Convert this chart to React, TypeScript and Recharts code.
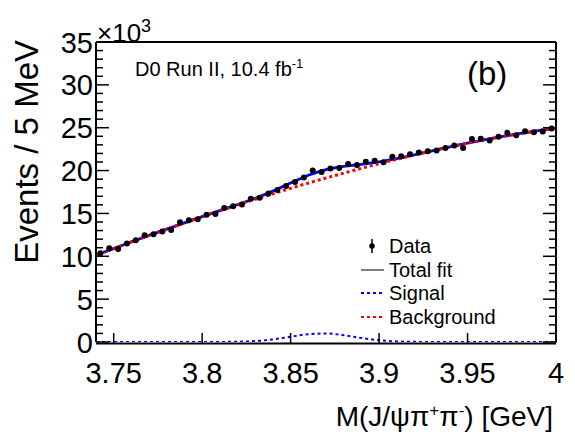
import { ComposedChart, Line, Scatter, XAxis, YAxis } from 'recharts';

// bin centres of the 5 MeV bins [GeV]
const binMass = [
  3.7425, 3.7475, 3.7525, 3.7575, 3.7625, 3.7675, 3.7725, 3.7775, 3.7825, 3.7875,
  3.7925, 3.7975, 3.8025, 3.8075, 3.8125, 3.8175, 3.8225, 3.8275, 3.8325, 3.8375,
  3.8425, 3.8475, 3.8525, 3.8575, 3.8625, 3.8675, 3.8725, 3.8775, 3.8825, 3.8875,
  3.8925, 3.8975, 3.9025, 3.9075, 3.9125, 3.9175, 3.9225, 3.9275, 3.9325, 3.9375,
  3.9425, 3.9475, 3.9525, 3.9575, 3.9625, 3.9675, 3.9725, 3.9775, 3.9825, 3.9875,
  3.9925, 3.9975,
];
// events per bin, x10^3
const binEvents = [
  10.36, 10.94, 10.85, 11.49, 11.87, 12.45, 12.57, 12.88, 13.07, 13.96,
  14.2, 14.31, 14.86, 14.93, 15.62, 15.85, 16.05, 16.71, 16.84, 17.33,
  17.73, 18.2, 18.68, 19.2, 20.02, 19.83, 20.24, 20.31, 20.77, 20.65,
  21.04, 21.16, 20.96, 21.62, 21.66, 21.89, 22.12, 22.24, 22.33, 22.62,
  22.93, 22.63, 23.69, 23.71, 23.52, 23.94, 24.4, 24.12, 24.6, 24.47,
  24.56, 24.92,
];

// fit curves sampled every 10 MeV, x10^3
const curveMass = [
  3.74, 3.75, 3.76, 3.77, 3.78, 3.79, 3.8, 3.81, 3.82, 3.83, 3.84, 3.85, 3.86, 3.87,
  3.88, 3.89, 3.9, 3.91, 3.92, 3.93, 3.94, 3.95, 3.96, 3.97, 3.98, 3.99, 4.0,
];
const backgroundFit = [
  10.15, 10.9, 11.68, 12.44, 13.17, 13.9, 14.62, 15.32, 16.0, 16.66, 17.3, 17.93, 18.54, 19.13,
  19.7, 20.26, 20.8, 21.32, 21.82, 22.3, 22.76, 23.2, 23.6, 23.98, 24.33, 24.66, 24.95,
];
const signalFit = [
  0, 0, 0, 0, 0, 0, 0, 0.01, 0.03, 0.11, 0.3, 0.61, 0.91, 0.99,
  0.8, 0.47, 0.21, 0.07, 0.02, 0, 0, 0, 0, 0, 0, 0, 0,
];
const totalFit = [
  10.15, 10.9, 11.68, 12.44, 13.17, 13.9, 14.62, 15.33, 16.03, 16.77, 17.6, 18.54, 19.45, 20.12,
  20.5, 20.73, 21.01, 21.39, 21.84, 22.3, 22.76, 23.2, 23.6, 23.98, 24.33, 24.66, 24.95,
];

const xTicks = [3.75, 3.8, 3.85, 3.9, 3.95, 4];
const yTicks = Array.from({ length: 36 }, (_, i) => i);

const points = binMass.map((m, i) => ({ m, n: binEvents[i] }));
const bg = curveMass.map((m, i) => ({ m, v: backgroundFit[i] }));
const sig = curveMass.map((m, i) => ({ m, v: signalFit[i] }));
const tot = curveMass.map((m, i) => ({ m, v: totalFit[i] }));

const FONT = "'Liberation Sans', Arial, Helvetica, sans-serif";

const LeftTick = ({ x, y, payload }: any) => {
  const major = payload.value % 5 === 0;
  return (
    <g>
      <line x1={x} x2={x + (major ? 13 : 7)} y1={y} y2={y} stroke="#000" strokeWidth={1.5} />
      {major && (
        <text x={x - 3} y={y + 10.5} textAnchor="end" fontSize={29} fontFamily={FONT} fill="#000">
          {payload.value}
        </text>
      )}
    </g>
  );
};

const RightTick = ({ x, y, payload }: any) => {
  const major = payload.value % 5 === 0;
  return <line x1={x} x2={x - (major ? 13 : 7)} y1={y} y2={y} stroke="#000" strokeWidth={1.5} />;
};

const BottomTick = ({ x, y, payload }: any) => (
  <g>
    <line x1={x} x2={x} y1={y + 1} y2={y - 9} stroke="#000" strokeWidth={1.5} />
    <text x={x} y={y + 41} textAnchor="middle" fontSize={29} fontFamily={FONT} fill="#000">
      {payload.value}
    </text>
  </g>
);

const TopTick = ({ x, y }: any) => (
  <line x1={x} x2={x} y1={y} y2={y + 10} stroke="#000" strokeWidth={1.5} />
);

const Dot = (p: any) => <circle cx={p.cx} cy={p.cy} r={3} fill="#000" />;

const axisLine = { stroke: '#000', strokeWidth: 2 };
// frame's bottom edge sits just under the zero line, as in ROOT
const bottomLine = { stroke: '#000', strokeWidth: 2, transform: 'translate(0,1.5)' };

export default function App() {
  return (
    <div style={{ position: 'absolute', left: 0, top: 0, width: 575, height: 434, background: '#fff' }}>
      <ComposedChart width={575} height={434} margin={{ top: 41, right: 18, bottom: 91, left: 95 }}>
        <XAxis
          dataKey="m"
          type="number"
          domain={[3.74, 4.0]}
          ticks={xTicks}
          interval={0}
          allowDataOverflow
          height={1}
          tickSize={0}
          tickMargin={0}
          tick={<BottomTick />}
          axisLine={bottomLine}
        />
        <XAxis
          xAxisId="t"
          orientation="top"
          type="number"
          domain={[3.74, 4.0]}
          ticks={xTicks}
          interval={0}
          allowDataOverflow
          height={1}
          tickSize={0}
          tickMargin={0}
          tick={<TopTick />}
          axisLine={axisLine}
        />
        <YAxis
          type="number"
          domain={[0, 35]}
          ticks={yTicks}
          interval={0}
          allowDataOverflow
          width={1}
          tickSize={0}
          tickMargin={0}
          tick={<LeftTick />}
          axisLine={axisLine}
        />
        <YAxis
          yAxisId="r"
          orientation="right"
          type="number"
          domain={[0, 35]}
          ticks={yTicks}
          interval={0}
          allowDataOverflow
          width={1}
          tickSize={0}
          tickMargin={0}
          tick={<RightTick />}
          axisLine={axisLine}
        />
        <Line data={tot} dataKey="v" type="monotone" stroke="#0000ff" strokeWidth={2.8} dot={false} isAnimationActive={false} />
        <Line data={bg} dataKey="v" type="monotone" stroke="#ff0000" strokeWidth={3} strokeDasharray="3 3" dot={false} isAnimationActive={false} />
        <Line data={sig} dataKey="v" type="monotone" stroke="#0000ff" strokeWidth={2} strokeDasharray="3 3" dot={false} isAnimationActive={false} />
        <Scatter data={points} dataKey="n" shape={<Dot />} isAnimationActive={false} />
      </ComposedChart>

      <svg width={575} height={434} style={{ position: 'absolute', left: 0, top: 0, pointerEvents: 'none' }} fontFamily={FONT}>
        <text x={97} y={42} fontSize={26} fill="#000">
          ×10<tspan dy={-10} fontSize={18}>3</tspan>
        </text>
        <text x={135} y={76} fontSize={20} fill="#000">
          D0 Run II, 10.4 fb<tspan dy={-8} fontSize={13}>-1</tspan>
        </text>
        <text x={467} y={85} fontSize={33} fill="#000">(b)</text>

        <text transform="translate(38,40) rotate(-90)" textAnchor="end" fontSize={33} fill="#000">
          Events / 5 MeV
        </text>
        <text x={553} y={426} textAnchor="end" fontSize={28} fill="#000">
          M(J/ψπ<tspan dy={-10} fontSize={17}>+</tspan>
          <tspan dy={10}>π</tspan>
          <tspan dy={-10} fontSize={17}>-</tspan>
          <tspan dy={10}>) [GeV]</tspan>
        </text>

        {/* legend */}
        <line x1={372} x2={372} y1={239} y2={253} stroke="#000" strokeWidth={1.5} />
        <circle cx={372} cy={246} r={2.8} fill="#000" />
        <text x={389} y={253} fontSize={20} fill="#000">Data</text>
        <line x1={361} x2={384} y1={270} y2={270} stroke="#555" strokeWidth={1.5} />
        <text x={389} y={277} fontSize={20} fill="#000">Total fit</text>
        <line x1={361} x2={384} y1={293} y2={293} stroke="#0000ff" strokeWidth={2} strokeDasharray="3 3" />
        <text x={389} y={300} fontSize={20} fill="#000">Signal</text>
        <line x1={361} x2={384} y1={317} y2={317} stroke="#ff0000" strokeWidth={2} strokeDasharray="3 3" />
        <text x={389} y={324} fontSize={20} fill="#000">Background</text>
      </svg>
    </div>
  );
}
